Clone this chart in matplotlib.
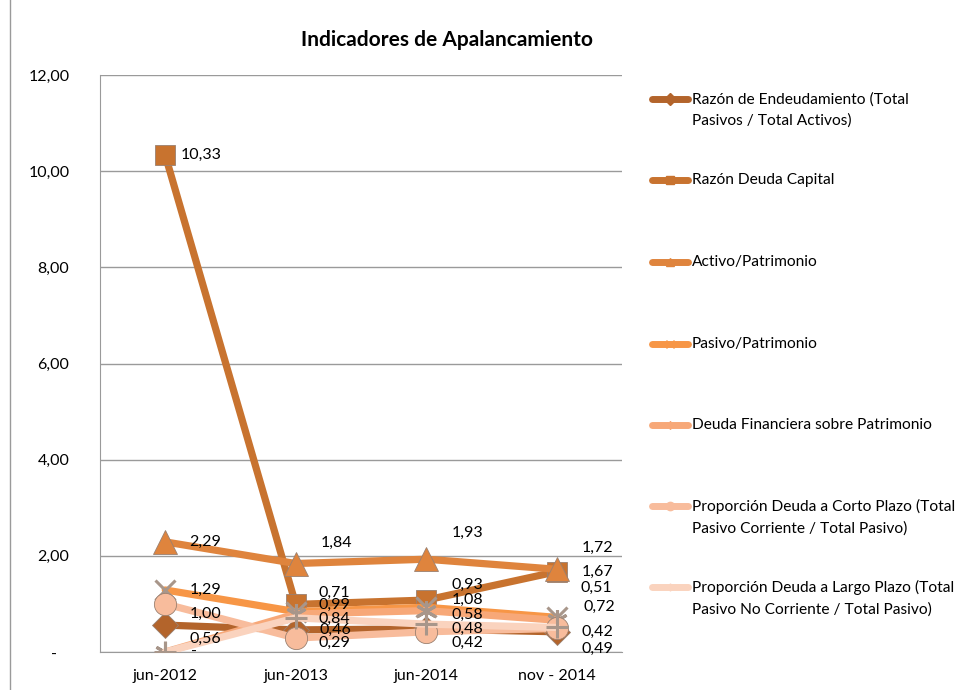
import numpy as np
import matplotlib.pyplot as plt
from matplotlib.lines import Line2D

plt.rcParams['font.family'] = ['Lato', 'DejaVu Sans']

# Datos
periodos = ['jun-2012', 'jun-2013', 'jun-2014', 'nov - 2014']
series = [
    'Razón de Endeudamiento (Total\nPasivos / Total Activos)',
    'Razón Deuda Capital',
    'Activo/Patrimonio',
    'Pasivo/Patrimonio',
    'Deuda Financiera sobre Patrimonio',
    'Proporción Deuda a Corto Plazo (Total\nPasivo Corriente / Total Pasivo)',
    'Proporción Deuda a Largo Plazo (Total\nPasivo No Corriente / Total Pasivo)',
]
endeudamiento = [0.56, 0.46, 0.48, 0.42]
deuda_capital = [10.33, 0.99, 1.08, 1.67]
activo_patrimonio = [2.29, 1.84, 1.93, 1.72]
pasivo_patrimonio = [1.29, 0.84, 0.93, 0.72]
deuda_financiera = [0.0, 0.79, 0.86, 0.66]
corto_plazo = [1.00, 0.29, 0.42, 0.49]
largo_plazo = [0.0, 0.71, 0.58, 0.51]
valores = [endeudamiento, deuda_capital, activo_patrimonio, pasivo_patrimonio,
           deuda_financiera, corto_plazo, largo_plazo]
# etiquetas visibles
mostrar = [
    [True, True, True, True],
    [True, True, True, True],
    [True, True, True, True],
    [True, True, True, True],
    [False, False, False, False],
    [True, True, True, True],
    [True, True, True, True],
]

# Estilo
colores = ['#B3642B', '#C8732F', '#DF843D', '#F79646', '#F7A878', '#F8BC9C', '#FAD3BE']
marcadores = ['D', 's', '^', 'x', (6, 2, 0), 'o', '+']
tam_marc = [13, 15, 17, 15, 15, 16, 16]
# desplazamiento de etiquetas (px, y positivo = abajo)
desp_x = [
    [24, 24, 25, 25],
    [15, 23, 25, 25],
    [24, 25, 25, 25],
    [24, 23, 25, 27],
    [24, 24, 24, 24],
    [24, 23, 25, 25],
    [26, 23, 25, 24],
]
desp_y = [
    [14, 0, 0, 0],
    [0, 0, 0, 0],
    [0, -21, -26, -21],
    [0, 7, -22, -10],
    [0, 0, 0, 0],
    [10, 5, 11, 20],
    [0, -25, -9, -40],
]

def fmt(v):
    return '-' if v == 0 else f'{v:.2f}'.replace('.', ',')

fig = plt.figure(figsize=(9.61, 6.90), dpi=100)
ax = fig.add_axes([100 / 961, 38 / 690, 522 / 961, 577 / 690])

x = np.arange(len(periodos))
for i, (vals, nombre) in enumerate(zip(valores, series)):
    m = marcadores[i]
    linea_marc = m in ('x', '+') or isinstance(m, tuple)
    ax.plot(x, vals, color=colores[i], lw=5.2, zorder=3 + i, solid_capstyle='round',
            marker=m, markersize=tam_marc[i],
            markerfacecolor=colores[i],
            markeredgecolor='#A8968A' if linea_marc else '#9A8070',
            markeredgewidth=2.2 if linea_marc else 0.6)
    for j, v in enumerate(vals):
        if mostrar[i][j]:
            ax.annotate(fmt(v), (x[j], v), xytext=(desp_x[i][j], -desp_y[i][j]),
                        textcoords='offset pixels', ha='left', va='center',
                        fontsize=11.5, color='black', zorder=20)

ax.set_xlim(-0.5, 3.5)
ax.set_ylim(0, 12)
ax.set_xticks(x)
ax.set_xticklabels(periodos, fontsize=11.5)
ax.set_yticks(np.arange(0, 13, 2))
ax.set_yticklabels([fmt(t) if t else '-   ' for t in np.arange(0, 13, 2)], fontsize=11.5)
ax.tick_params(axis='both', length=0)
ax.tick_params(axis='y', pad=22)
ax.tick_params(axis='x', pad=12)
ax.grid(axis='y', color='#9A9A9A', lw=1)
ax.set_axisbelow(True)
for s in ['top', 'right']:
    ax.spines[s].set_visible(False)
for s in ['left', 'bottom']:
    ax.spines[s].set_color('#9A9A9A')

fig.text(447 / 961, 1 - 40 / 690, 'Indicadores de Apalancamiento', ha='center', va='center',
         fontsize=15, fontweight='bold')

# Leyenda manual
leg_y = [99, 180, 262, 344, 425, 506, 587]
for i, nombre in enumerate(series):
    yy = 1 - leg_y[i] / 690
    fig.add_artist(Line2D([652 / 961, 688 / 961], [yy, yy], color=colores[i], lw=5,
                          solid_capstyle='round', transform=fig.transFigure))
    fig.add_artist(Line2D([670 / 961], [yy], color=colores[i], marker=marcadores[i],
                          markersize=6, markeredgecolor=colores[i],
                          transform=fig.transFigure))
    fig.text(692 / 961, 1 - (leg_y[i] - 7) / 690, nombre, ha='left', va='top',
             fontsize=11.2, linespacing=1.62)

# borde izquierdo del gráfico
fig.add_artist(Line2D([10 / 961, 10 / 961], [0, 1], color='#9A9A9A', lw=1,
                      transform=fig.transFigure))

fig.savefig('out.png', dpi=100)
